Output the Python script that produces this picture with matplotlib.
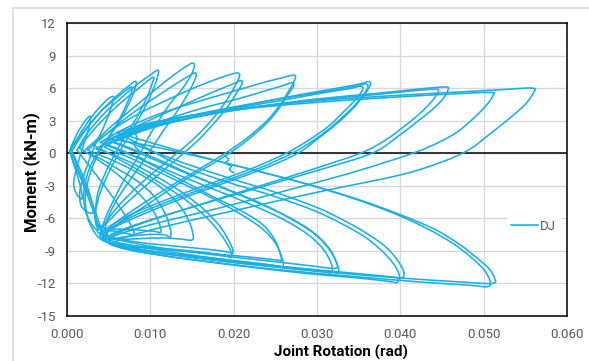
import matplotlib
matplotlib.use('Agg')
import matplotlib.pyplot as plt
from matplotlib import font_manager as fm
from matplotlib.patches import Rectangle, PathPatch
from matplotlib.path import Path
from matplotlib.lines import Line2D
from matplotlib.ticker import FixedLocator, FormatStrFormatter

# ---------------- data ----------------
series_name = "DJ"
x_ticks = [0.000, 0.010, 0.020, 0.030, 0.040, 0.050, 0.060]
y_ticks = [-15, -12, -9, -6, -3, 0, 3, 6, 9, 12]

rot_c01 = [0.0003, 0.0012, 0.0022, 0.0028, 0.0027, 0.0020, 0.0012, 0.0008, 0.0012, 0.0018, 0.0016, 0.0008, 0.0003]
mom_c01 = [0.2, 1.8, 3.0, 3.4, 2.6, 0.8, -1.2, -2.8, -3.8, -4.2, -3.0, -1.0, 0.2]

rot_c02 = [0.0004, 0.0015, 0.0030, 0.0045, 0.0053, 0.0056, 0.0052, 0.0044, 0.0034, 0.0024, 0.0016, 0.0016, 0.0022, 0.0031, 0.0031, 0.0024, 0.0014, 0.0006]
mom_c02 = [0.3, 1.7, 3.4, 4.7, 5.2, 5.1, 4.0, 2.4, 0.8, -1.2, -3.2, -4.6, -5.3, -5.5, -4.8, -3.0, -1.2, 0.2]

rot_c03 = [0.0006, 0.0020, 0.0040, 0.0060, 0.0074, 0.0081, 0.0083, 0.0078, 0.0068, 0.0055, 0.0040, 0.0028, 0.0022, 0.0025, 0.0034, 0.0043, 0.0042, 0.0035, 0.0024, 0.0012, 0.0006]
mom_c03 = [0.2, 1.9, 3.8, 5.3, 6.2, 6.6, 6.4, 5.2, 3.6, 2.0, 0.3, -1.8, -4.0, -6.0, -7.4, -8.0, -7.3, -5.6, -3.4, -1.2, 0.2]

rot_c04 = [0.0005, 0.0020, 0.0040, 0.0058, 0.0071, 0.0077, 0.0078, 0.0072, 0.0062, 0.0050, 0.0036, 0.0025, 0.0020, 0.0023, 0.0031, 0.0037, 0.0036, 0.0028, 0.0018, 0.0008, 0.0005]
mom_c04 = [0.4, 2.0, 3.8, 5.0, 5.8, 6.1, 5.8, 4.6, 3.0, 1.5, 0.0, -1.8, -3.8, -5.5, -6.7, -7.1, -6.4, -4.6, -2.6, -0.8, 0.4]

rot_c05 = [0.0012, 0.0025, 0.0045, 0.0065, 0.0085, 0.0100, 0.0107, 0.0110, 0.0106, 0.0096, 0.0084, 0.0072, 0.0062, 0.0050, 0.0040, 0.0034, 0.0036, 0.0045, 0.0060, 0.0072, 0.0080, 0.0079, 0.0072, 0.0060, 0.0045, 0.0030, 0.0018, 0.0012]
mom_c05 = [0.3, 1.9, 3.7, 5.1, 6.4, 7.2, 7.6, 7.5, 6.4, 4.6, 2.9, 1.3, 0.0, -1.8, -3.6, -5.5, -6.8, -7.1, -7.2, -7.4, -7.5, -7.0, -6.0, -4.6, -3.0, -1.5, -0.3, 0.3]

rot_c06 = [0.0015, 0.0030, 0.0050, 0.0070, 0.0088, 0.0099, 0.0104, 0.0103, 0.0095, 0.0083, 0.0070, 0.0058, 0.0045, 0.0036, 0.0035, 0.0045, 0.0065, 0.0090, 0.0105, 0.0112, 0.0112, 0.0105, 0.0092, 0.0075, 0.0055, 0.0035, 0.0020, 0.0015]
mom_c06 = [0.5, 2.0, 3.6, 5.0, 6.1, 6.8, 7.0, 6.6, 5.0, 3.2, 1.6, 0.0, -2.0, -4.0, -6.2, -6.9, -7.0, -7.1, -7.2, -7.3, -6.8, -5.5, -4.2, -2.9, -1.6, -0.5, 0.2, 0.5]

rot_c07 = [0.0020, 0.0035, 0.0055, 0.0080, 0.0105, 0.0128, 0.0143, 0.0150, 0.0153, 0.0149, 0.0138, 0.0124, 0.0110, 0.0098, 0.0088, 0.0072, 0.0058, 0.0046, 0.0042, 0.0050, 0.0070, 0.0095, 0.0115, 0.0124, 0.0124, 0.0118, 0.0105, 0.0085, 0.0060, 0.0040, 0.0025, 0.0020]
mom_c07 = [0.2, 1.2, 2.6, 4.2, 5.8, 7.2, 8.0, 8.3, 8.1, 7.2, 5.9, 4.6, 3.0, 1.5, 0.0, -2.0, -4.0, -6.0, -7.4, -7.9, -7.7, -7.5, -7.5, -7.7, -7.0, -5.6, -4.0, -2.6, -1.4, -0.5, 0.0, 0.2]

rot_c08 = [0.0025, 0.0040, 0.0065, 0.0090, 0.0115, 0.0135, 0.0148, 0.0154, 0.0155, 0.0150, 0.0140, 0.0128, 0.0115, 0.0098, 0.0080, 0.0062, 0.0050, 0.0046, 0.0055, 0.0080, 0.0110, 0.0135, 0.0150, 0.0151, 0.0146, 0.0133, 0.0110, 0.0080, 0.0050, 0.0030, 0.0025]
mom_c08 = [0.3, 1.3, 2.9, 4.3, 5.6, 6.6, 7.2, 7.4, 7.1, 6.2, 4.8, 3.4, 2.0, 0.0, -2.0, -4.0, -5.8, -7.2, -7.9, -7.9, -7.8, -7.9, -8.0, -7.4, -6.2, -4.6, -3.0, -1.6, -0.5, 0.1, 0.3]

rot_c09 = [0.0030, 0.0055, 0.0085, 0.0120, 0.0155, 0.0182, 0.0198, 0.0205, 0.0207, 0.0201, 0.0189, 0.0173, 0.0153, 0.0132, 0.0108, 0.0083, 0.0060, 0.0044, 0.0040, 0.0050, 0.0090, 0.0135, 0.0170, 0.0190, 0.0197, 0.0196, 0.0183, 0.0163, 0.0135, 0.0100, 0.0068, 0.0045, 0.0030]
mom_c09 = [0.8, 2.2, 3.6, 4.9, 6.1, 6.9, 7.3, 7.4, 7.1, 6.1, 4.6, 3.0, 1.4, 0.0, -1.5, -3.2, -5.0, -6.7, -7.6, -8.2, -8.6, -8.9, -9.2, -9.45, -9.6, -8.9, -7.3, -5.6, -3.9, -2.2, -0.8, 0.2, 0.8]

rot_c10 = [0.0035, 0.0060, 0.0095, 0.0130, 0.0165, 0.0190, 0.0203, 0.0209, 0.0210, 0.0204, 0.0193, 0.0178, 0.0160, 0.0140, 0.0117, 0.0090, 0.0066, 0.0048, 0.0036, 0.0045, 0.0085, 0.0135, 0.0175, 0.0193, 0.0199, 0.0197, 0.0185, 0.0166, 0.0138, 0.0104, 0.0072, 0.0050, 0.0035]
mom_c10 = [0.4, 1.6, 2.9, 4.1, 5.3, 6.1, 6.5, 6.7, 6.4, 5.6, 4.3, 2.9, 1.4, 0.0, -1.5, -3.3, -5.0, -6.4, -7.0, -7.6, -8.2, -8.6, -8.9, -9.1, -9.2, -8.5, -6.9, -5.3, -3.6, -2.0, -0.7, 0.0, 0.4]

rot_c11 = [0.0040, 0.0070, 0.0110, 0.0150, 0.0195, 0.0235, 0.0258, 0.0272, 0.0274, 0.0268, 0.0256, 0.0240, 0.0216, 0.0190, 0.0160, 0.0125, 0.0090, 0.0060, 0.0045, 0.0045, 0.0065, 0.0120, 0.0180, 0.0230, 0.0252, 0.0257, 0.0256, 0.0248, 0.0232, 0.0204, 0.0175, 0.0148, 0.0115, 0.0082, 0.0055, 0.0040]
mom_c11 = [1.0, 2.3, 3.6, 4.6, 5.6, 6.5, 6.95, 7.2, 6.9, 6.0, 4.5, 3.0, 1.4, 0.0, -1.4, -3.0, -4.7, -6.3, -7.4, -8.0, -8.5, -8.9, -9.3, -9.65, -9.85, -9.9, -9.3, -7.8, -6.4, -5.1, -4.0, -2.9, -1.6, -0.3, 0.6, 1.0]

rot_c12 = [0.0045, 0.0075, 0.0115, 0.0160, 0.0205, 0.0240, 0.0260, 0.0270, 0.0272, 0.0266, 0.0255, 0.0240, 0.0218, 0.0195, 0.0165, 0.0130, 0.0095, 0.0063, 0.0047, 0.0049, 0.0075, 0.0130, 0.0190, 0.0235, 0.0254, 0.0259, 0.0259, 0.0251, 0.0235, 0.0208, 0.0178, 0.0147, 0.0112, 0.0078, 0.0055, 0.0045]
mom_c12 = [0.6, 1.8, 3.0, 4.1, 5.0, 5.8, 6.25, 6.5, 6.2, 5.5, 4.2, 2.8, 1.3, 0.0, -1.4, -3.0, -4.8, -6.4, -7.5, -8.2, -8.8, -9.3, -9.8, -10.2, -10.4, -10.5, -9.9, -8.4, -7.0, -5.6, -4.3, -3.1, -1.8, -0.5, 0.2, 0.6]

rot_c13 = [0.0050, 0.0090, 0.0150, 0.0210, 0.0270, 0.0320, 0.0348, 0.0358, 0.0361, 0.0354, 0.0340, 0.0320, 0.0298, 0.0270, 0.0230, 0.0180, 0.0130, 0.0085, 0.0055, 0.0043, 0.0055, 0.0100, 0.0170, 0.0240, 0.0290, 0.0318, 0.0325, 0.0325, 0.0316, 0.0298, 0.0270, 0.0235, 0.0195, 0.0150, 0.0110, 0.0075, 0.0050]
mom_c13 = [1.2, 2.4, 3.5, 4.4, 5.2, 5.8, 6.2, 6.4, 6.1, 5.2, 4.0, 2.6, 1.3, 0.0, -1.4, -2.8, -4.2, -5.6, -6.8, -7.5, -8.1, -8.8, -9.6, -10.3, -10.7, -10.95, -11.0, -10.4, -9.0, -7.5, -6.1, -4.7, -3.4, -2.0, -0.6, 0.5, 1.2]

rot_c14 = [0.0045, 0.0085, 0.0140, 0.0200, 0.0260, 0.0310, 0.0342, 0.0352, 0.0355, 0.0347, 0.0333, 0.0314, 0.0290, 0.0263, 0.0222, 0.0172, 0.0122, 0.0078, 0.0048, 0.0040, 0.0052, 0.0100, 0.0170, 0.0240, 0.0290, 0.0310, 0.0317, 0.0318, 0.0309, 0.0291, 0.0262, 0.0226, 0.0185, 0.0140, 0.0100, 0.0068, 0.0045]
mom_c14 = [0.8, 2.0, 3.1, 4.1, 4.9, 5.6, 6.0, 6.2, 5.9, 5.0, 3.9, 2.5, 1.2, 0.0, -1.4, -2.8, -4.2, -5.6, -6.9, -7.7, -8.3, -9.0, -9.8, -10.4, -10.8, -10.95, -11.0, -10.4, -9.0, -7.6, -6.2, -4.9, -3.6, -2.2, -0.9, 0.1, 0.8]

rot_c15 = [0.0055, 0.0100, 0.0160, 0.0220, 0.0280, 0.0325, 0.0352, 0.0362, 0.0364, 0.0357, 0.0344, 0.0325, 0.0302, 0.0277, 0.0237, 0.0187, 0.0137, 0.0092, 0.0060, 0.0048, 0.0058, 0.0110, 0.0180, 0.0250, 0.0295, 0.0322, 0.0323, 0.0313, 0.0294, 0.0266, 0.0230, 0.0190, 0.0145, 0.0105, 0.0075, 0.0055]
mom_c15 = [1.0, 2.3, 3.5, 4.5, 5.4, 6.0, 6.4, 6.6, 6.3, 5.4, 4.2, 2.8, 1.4, 0.0, -1.4, -2.8, -4.2, -5.6, -6.7, -7.3, -7.9, -8.7, -9.4, -10.0, -10.4, -10.6, -10.0, -8.6, -7.2, -5.9, -4.6, -3.3, -1.9, -0.6, 0.4, 1.0]

rot_c16 = [0.0060, 0.0100, 0.0160, 0.0230, 0.0300, 0.0370, 0.0420, 0.0454, 0.0457, 0.0451, 0.0438, 0.0420, 0.0398, 0.0366, 0.0300, 0.0220, 0.0140, 0.0082, 0.0050, 0.0047, 0.0065, 0.0120, 0.0200, 0.0280, 0.0350, 0.0390, 0.0402, 0.0404, 0.0396, 0.0382, 0.0358, 0.0330, 0.0300, 0.0250, 0.0195, 0.0140, 0.0095, 0.0060]
mom_c16 = [1.4, 2.4, 3.4, 4.3, 5.0, 5.5, 5.9, 6.1, 5.8, 5.0, 4.0, 2.9, 1.6, 0.0, -1.6, -3.4, -5.2, -6.6, -7.6, -8.1, -8.6, -9.3, -10.0, -10.6, -11.1, -11.4, -11.5, -10.9, -9.8, -8.6, -7.3, -6.1, -5.0, -3.6, -2.3, -0.9, 0.4, 1.4]

rot_c17 = [0.0065, 0.0110, 0.0170, 0.0240, 0.0310, 0.0370, 0.0415, 0.0443, 0.0445, 0.0438, 0.0424, 0.0405, 0.0382, 0.0352, 0.0290, 0.0215, 0.0140, 0.0085, 0.0052, 0.0050, 0.0070, 0.0130, 0.0210, 0.0290, 0.0350, 0.0385, 0.0396, 0.0399, 0.0391, 0.0375, 0.0351, 0.0303, 0.0250, 0.0190, 0.0135, 0.0095, 0.0065]
mom_c17 = [1.7, 2.7, 3.6, 4.4, 5.0, 5.4, 5.75, 5.9, 5.6, 4.8, 3.7, 2.5, 1.2, 0.0, -1.6, -3.4, -5.2, -6.6, -7.7, -8.3, -8.8, -9.6, -10.4, -11.1, -11.5, -11.8, -11.9, -11.3, -10.1, -8.8, -7.4, -5.5, -4.0, -2.6, -1.1, 0.5, 1.7]

rot_c18 = [0.0060, 0.0100, 0.0160, 0.0240, 0.0320, 0.0400, 0.0460, 0.0508, 0.0511, 0.0503, 0.0489, 0.0469, 0.0446, 0.0415, 0.0350, 0.0270, 0.0180, 0.0100, 0.0058, 0.0052, 0.0075, 0.0140, 0.0230, 0.0320, 0.0400, 0.0470, 0.0510, 0.0513, 0.0506, 0.0491, 0.0471, 0.0441, 0.0401, 0.0351, 0.0291, 0.0221, 0.0150, 0.0095, 0.0060]
mom_c18 = [1.9, 2.8, 3.6, 4.3, 4.8, 5.2, 5.45, 5.6, 5.3, 4.4, 3.3, 2.0, 1.0, 0.0, -1.6, -3.3, -5.1, -6.6, -7.6, -8.2, -8.7, -9.5, -10.3, -11.0, -11.5, -11.85, -12.0, -11.5, -10.6, -9.6, -8.4, -7.0, -5.7, -4.3, -2.9, -1.5, -0.1, 1.1, 1.9]

rot_c19 = [0.0050, 0.0090, 0.0150, 0.0230, 0.0310, 0.0390, 0.0460, 0.0520, 0.0558, 0.0560, 0.0551, 0.0537, 0.0521, 0.0503, 0.0482, 0.0450, 0.0400, 0.0300, 0.0200, 0.0120, 0.0068, 0.0058, 0.0080, 0.0150, 0.0250, 0.0350, 0.0430, 0.0480, 0.0504, 0.0508, 0.0501, 0.0485, 0.0463, 0.0431, 0.0391, 0.0341, 0.0281, 0.0211, 0.0140, 0.0085, 0.0050]
mom_c19 = [1.3, 2.5, 3.5, 4.3, 4.9, 5.3, 5.6, 5.85, 6.0, 5.6, 4.6, 3.6, 2.6, 1.5, 0.3, -0.8, -2.0, -3.6, -5.3, -6.7, -7.8, -8.4, -9.0, -9.8, -10.7, -11.4, -11.9, -12.15, -12.3, -11.9, -10.8, -9.6, -8.3, -6.9, -5.5, -4.1, -2.7, -1.3, 0.0, 0.9, 1.3]

# short reversal wiggles near zero moment
rot_w01 = [0.0079, 0.0084, 0.0081, 0.0088, 0.0085, 0.0091]
mom_w01 = [2.2, 1.4, 0.7, 0.1, -0.3, -0.5]
rot_w02 = [0.0189, 0.0194, 0.0190, 0.0197, 0.0195, 0.0200]
mom_w02 = [-0.2, -0.6, -0.9, -1.2, -1.5, -1.8]

cycles = [
    (rot_c01, mom_c01), (rot_c02, mom_c02), (rot_c03, mom_c03), (rot_c04, mom_c04),
    (rot_c05, mom_c05), (rot_c06, mom_c06), (rot_c07, mom_c07), (rot_c08, mom_c08),
    (rot_c09, mom_c09), (rot_c10, mom_c10), (rot_c11, mom_c11), (rot_c12, mom_c12),
    (rot_c13, mom_c13), (rot_c14, mom_c14), (rot_c15, mom_c15), (rot_c16, mom_c16),
    (rot_c17, mom_c17), (rot_c18, mom_c18), (rot_c19, mom_c19),
    (rot_w01, mom_w01), (rot_w02, mom_w02),
]

# ---------------- styling ----------------
plt.rcParams['axes.unicode_minus'] = False
names = {f.name for f in fm.fontManager.ttflist}
NARROW = 'Liberation Sans Narrow' if 'Liberation Sans Narrow' in names else 'Roboto'
LINE_COLOR = '#1AAFE6'
GRID_COLOR = '#D9D9D9'
TICK_COLOR = '#595959'
LW = 1.15


def smooth_path(xs, ys):
    """Excel-style smoothed line through the read points (Catmull-Rom -> Bezier)."""
    pts = list(zip(xs, ys))
    n = len(pts)
    verts = [pts[0]]
    codes = [Path.MOVETO]
    for i in range(n - 1):
        p0 = pts[i - 1] if i > 0 else pts[i]
        p1 = pts[i]
        p2 = pts[i + 1]
        p3 = pts[i + 2] if i + 2 < n else pts[i + 1]
        c1 = (p1[0] + (p2[0] - p0[0]) / 6.0, p1[1] + (p2[1] - p0[1]) / 6.0)
        c2 = (p2[0] - (p3[0] - p1[0]) / 6.0, p2[1] - (p3[1] - p1[1]) / 6.0)
        verts += [c1, c2, p2]
        codes += [Path.CURVE4] * 3
    return Path(verts, codes)


W, H = 589, 361
fig = plt.figure(figsize=(W / 100, H / 100), dpi=100)
fig.patch.set_facecolor('white')

# outer chart-area border (cut by the image edges on the right and bottom)
fig.patches.append(Rectangle((13 / W, -0.2), 1.2, 0.2 + (1 - 8 / H),
                             transform=fig.transFigure, fill=False,
                             edgecolor=GRID_COLOR, lw=1.2))

ax = fig.add_axes([67 / W, 1 - 316 / H, 500 / W, 293 / H])
ax.set_xlim(0, 0.06)
ax.set_ylim(-15, 12)

for xr, ym in cycles:
    ax.add_patch(PathPatch(smooth_path(xr, ym), facecolor='none',
                           edgecolor=LINE_COLOR, lw=LW, joinstyle='round',
                           capstyle='round', zorder=3))

ax.axhline(0, color='black', lw=1.1, zorder=2)

ax.xaxis.set_major_locator(FixedLocator(x_ticks))
ax.yaxis.set_major_locator(FixedLocator(y_ticks))
ax.xaxis.set_major_formatter(FormatStrFormatter('%.3f'))
ax.grid(True, color=GRID_COLOR, lw=1.0, zorder=0)
ax.set_axisbelow(True)
for s in ax.spines.values():
    s.set_color('black')
    s.set_linewidth(1.1)
ax.tick_params(length=0, labelsize=9.5, labelcolor=TICK_COLOR)
ax.tick_params(axis='x', pad=9)
ax.tick_params(axis='y', pad=8)
for lab in ax.get_xticklabels() + ax.get_yticklabels():
    lab.set_fontfamily(NARROW)

fig.text(341 / W, 1 - 352 / H, 'Joint Rotation (rad)', ha='center', va='center',
         fontsize=11, fontweight='bold', family=NARROW)
fig.text(32 / W, 1 - 172 / H, 'Moment (kN-m)', ha='center', va='center',
         rotation=90, fontsize=12, fontweight='bold', family=NARROW)

handle = Line2D([], [], color=LINE_COLOR, lw=LW)
leg = ax.legend([handle], [series_name], loc='center left',
                bbox_to_anchor=(500 / W, 1 - 226 / H),
                bbox_transform=fig.transFigure, frameon=True, fancybox=False,
                handlelength=2.0, handletextpad=0.2, borderpad=0.35,
                prop={'family': NARROW, 'size': 9.5})
leg.get_frame().set_edgecolor('none')
leg.get_frame().set_facecolor('white')
leg.get_frame().set_alpha(1.0)
for t in leg.get_texts():
    t.set_color(TICK_COLOR)

fig.savefig('out.png', dpi=100)
